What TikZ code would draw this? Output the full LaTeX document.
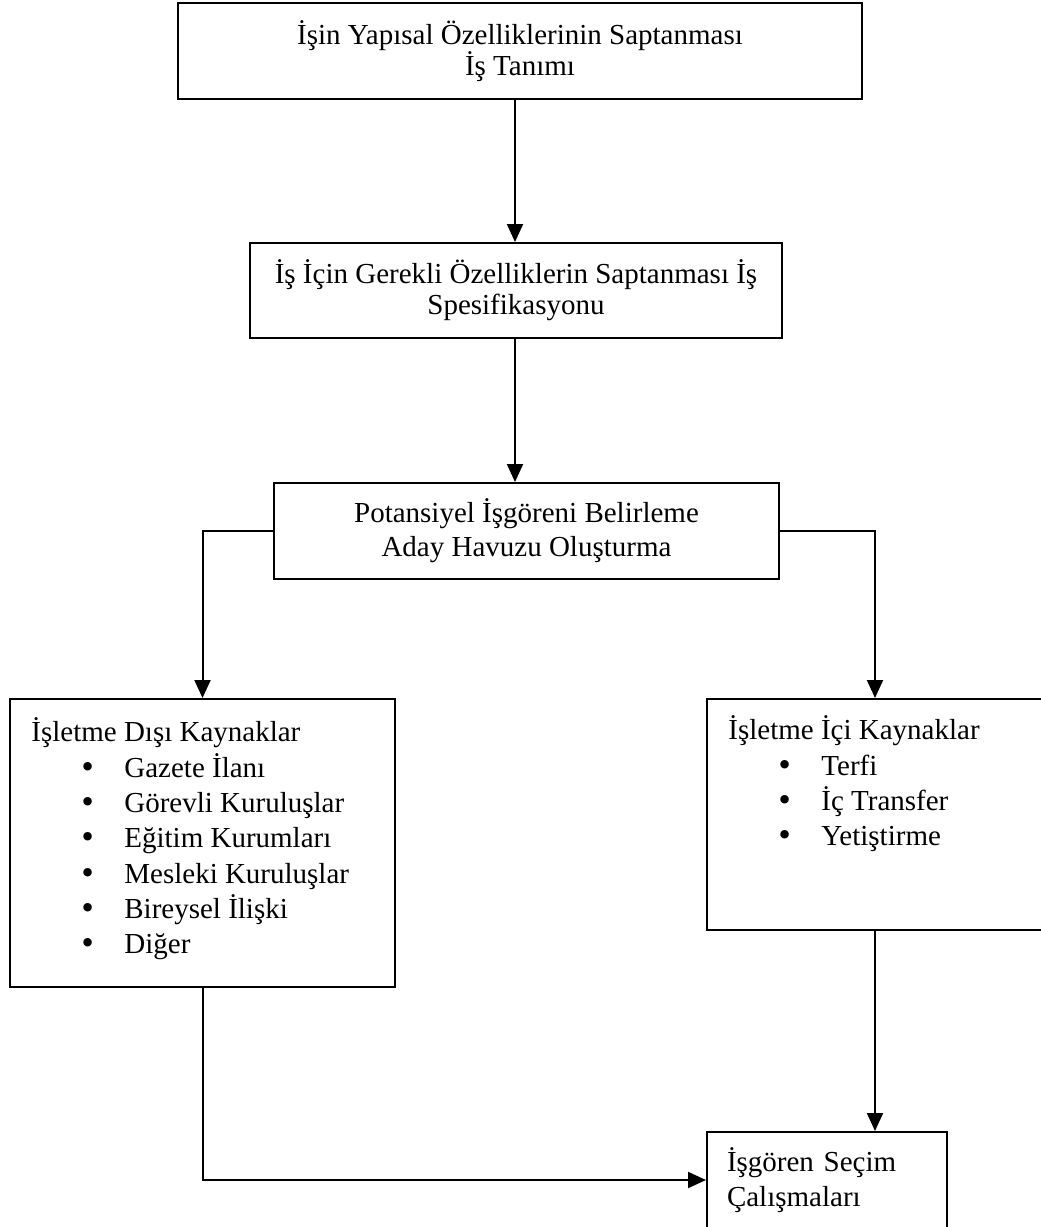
\documentclass[tikz,border=0pt]{standalone}
\usepackage{fontspec}
\setmainfont{Liberation Serif}
\newfontfamily\isaretfont{DejaVu Sans}
\usetikzlibrary{arrows.meta}

\tikzset{
  kutu/.style={draw=black, line width=1pt, align=center, inner sep=0pt,
    font=\fontsize{14.5}{15.5}\selectfont},
  yazi/.style={anchor=base west, inner sep=0pt, font=\fontsize{14.5}{16}\selectfont},
  ok/.style={-{Triangle[length=9pt,width=8pt]}, line width=1pt}
}
\newcommand\madde{\makebox[22.5pt][l]{{\isaretfont •}}}

\begin{document}
\begin{tikzpicture}[x=0.5pt, y=-0.5pt]
  \useasboundingbox (0,0) rectangle (1040,1227);
  % kutular
  \node[kutu, minimum width=342pt, minimum height=48pt] (tanim) at (520,51)
    {İşin Yapısal Özelliklerinin Saptanması\\İş Tanımı};
  \node[kutu, minimum width=266pt, minimum height=47.5pt] (spesifik) at (516,290.5)
    {İş İçin Gerekli Özelliklerin Saptanması İş\\Spesifikasyonu};
  \node[kutu, minimum width=252.5pt, minimum height=48pt,
    font=\fontsize{14.5}{17}\selectfont] (havuz) at (526.5,531)
    {Potansiyel İşgöreni Belirleme\\Aday Havuzu Oluşturma};
  \node[kutu, minimum width=192.5pt, minimum height=144pt] (disi) at (202.5,843) {};
  \node[kutu, minimum width=168pt, minimum height=115.5pt] (ici) at (875,814.5) {};
  \node[kutu, align=left, text width=100pt, inner xsep=10pt, minimum height=48pt,
    font=\fontsize{14.5}{17.5}\selectfont] (secim) at (827,1180)
    {İşgören Seçim\\Çalışmaları};

  % listeler
  \node[yazi] (disibaslik) at (31,741) {İşletme Dışı Kaynaklar};
  \foreach \isim [count=\i] in {Gazete İlanı, Görevli Kuruluşlar, Eğitim Kurumları,
      Mesleki Kuruluşlar, Bireysel İlişki, Diğer}
    \node[yazi] (disi\i) at (79,{742+35.3*\i}) {\madde\isim};
  \node[yazi] (icibaslik) at (728,739) {İşletme İçi Kaynaklar};
  \foreach \isim [count=\i] in {Terfi, İç Transfer, Yetiştirme}
    \node[yazi] (ici\i) at (776,{740+35*\i}) {\madde\isim};

  % oklar
  \coordinate (omurga) at (515,0);
  \draw[ok] (tanim.south -| omurga) -- (spesifik.north -| omurga);
  \draw[ok] (spesifik.south -| omurga) -- (havuz.north -| omurga);
  \draw[ok] (havuz.west) -| (disi.north);
  \draw[ok] (havuz.east) -| (ici.north);
  \draw[ok] (ici.south) -- (ici.south |- secim.north);
  \draw[ok] (disi.south) |- (secim.west);
\end{tikzpicture}
\end{document}
